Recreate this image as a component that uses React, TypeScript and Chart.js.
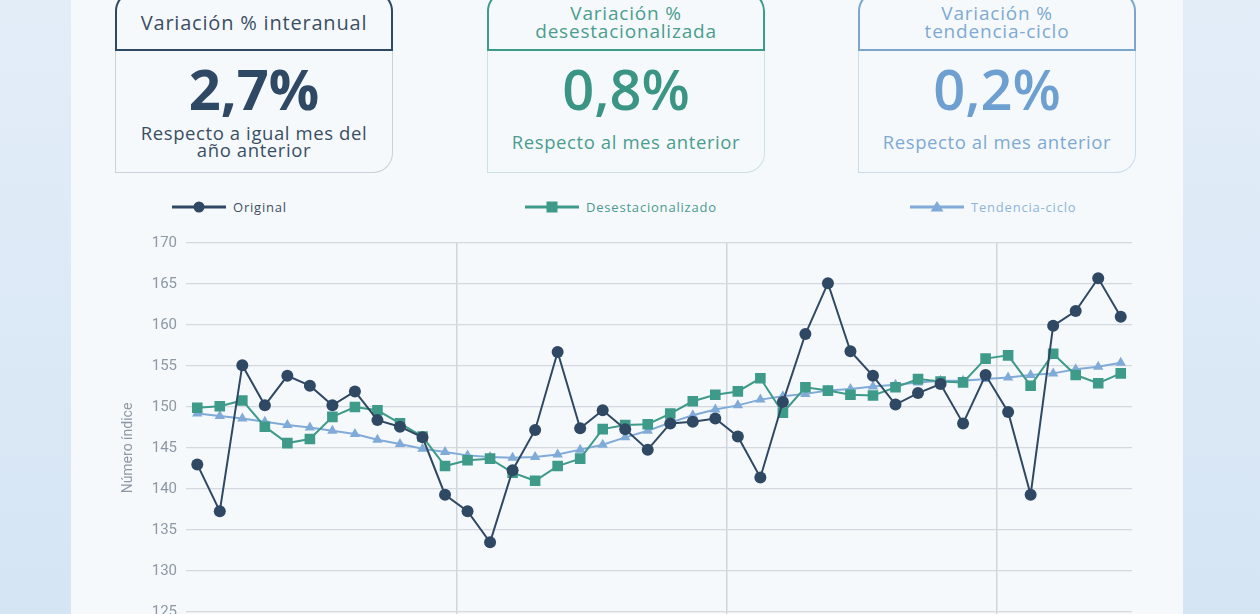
import { useEffect, useRef } from 'react'
import { Chart, registerables, type ChartOptions } from 'chart.js'

Chart.register(...registerables)

// 42 months, 12 per year; x tick labels fall below the visible area
const MONTHS = [
  'ene', 'feb', 'mar', 'abr', 'may', 'jun', 'jul', 'ago', 'sep', 'oct', 'nov', 'dic',
  'ene', 'feb', 'mar', 'abr', 'may', 'jun', 'jul', 'ago', 'sep', 'oct', 'nov', 'dic',
  'ene', 'feb', 'mar', 'abr', 'may', 'jun', 'jul', 'ago', 'sep', 'oct', 'nov', 'dic',
  'ene', 'feb', 'mar', 'abr', 'may', 'jun',
]

const ORIGINAL = [
  143.0, 137.3, 155.1, 150.2, 153.8, 152.6, 150.2, 151.9, 148.4, 147.6, 146.3, 139.3,
  137.3, 133.5, 142.3, 147.2, 156.7, 147.4, 149.6, 147.3, 144.8, 148.0, 148.2, 148.6,
  146.4, 141.4, 150.6, 158.9, 165.1, 156.8, 153.8, 150.3, 151.7, 152.8, 148.0, 153.9,
  149.4, 139.3, 159.9, 161.7, 165.7, 161.0,
]

const DESESTACIONALIZADO = [
  149.9, 150.1, 150.8, 147.6, 145.6, 146.1, 148.8, 150.0, 149.6, 148.0, 146.4, 142.8,
  143.5, 143.7, 142.0, 141.0, 142.8, 143.7, 147.3, 147.8, 147.9, 149.2, 150.7, 151.5,
  151.9, 153.5, 149.3, 152.4, 152.0, 151.5, 151.4, 152.4, 153.4, 153.1, 153.0, 155.9,
  156.3, 152.6, 156.5, 153.9, 152.9, 154.1,
]

const TENDENCIA = [
  149.2, 148.9, 148.6, 148.2, 147.8, 147.5, 147.1, 146.7, 146.0, 145.5, 144.9, 144.5,
  144.1, 143.9, 143.8, 143.9, 144.2, 144.8, 145.4, 146.3, 147.1, 148.1, 149.0, 149.7,
  150.2, 150.9, 151.3, 151.6, 152.0, 152.2, 152.5, 152.7, 153.0, 153.2, 153.2, 153.4,
  153.6, 153.9, 154.1, 154.6, 154.9, 155.4,
]

const Y_MIN = 120
const Y_MAX = 170

const NAVY = '#2f4863'
const TEAL = '#3e9a89'
const SKY = '#80aad7'
const GRID = '#d4d9df'
const TICK = '#8d98a4'

const UI_FONT = "'Open Sans', 'Noto Sans', sans-serif"

const CHART_OPTS: ChartOptions<'line'> = {
  responsive: true,
  maintainAspectRatio: false,
  animation: false,
  layout: { padding: { top: 20, right: 10, bottom: 10, left: 0 } },
  plugins: { legend: { display: false }, tooltip: { enabled: false } },
  scales: {
    x: {
      type: 'category',
      offset: true,
      border: { display: false },
      ticks: { display: false, autoSkip: false },
      grid: {
        offset: true,
        drawTicks: false,
        lineWidth: 1.5,
        color: (ctx) => (ctx.index > 0 && ctx.index % 12 === 0 ? '#d0d5db' : 'transparent'),
      },
    },
    y: {
      min: Y_MIN,
      max: Y_MAX,
      border: { display: false },
      afterFit: (scale) => {
        scale.width = 75
      },
      ticks: {
        stepSize: 5,
        padding: 9,
        color: TICK,
        font: { family: 'Roboto', size: 15 },
      },
      grid: { color: GRID, lineWidth: 1.3, drawTicks: false },
      title: {
        display: true,
        text: 'Número índice',
        color: TICK,
        font: { family: 'Roboto', size: 14 },
        padding: { top: 9, bottom: 0 },
      },
    },
  },
}

function SeriesChart() {
  const canvasRef = useRef<HTMLCanvasElement | null>(null)
  const chartRef = useRef<Chart | null>(null)

  useEffect(() => {
    if (!canvasRef.current) return
    chartRef.current?.destroy()

    chartRef.current = new Chart(canvasRef.current, {
      type: 'line',
      data: {
        labels: MONTHS,
        datasets: [
          {
            label: 'Original',
            data: ORIGINAL,
            borderColor: NAVY,
            backgroundColor: NAVY,
            borderWidth: 2,
            pointStyle: 'circle',
            pointRadius: 6,
            pointBorderWidth: 0,
            tension: 0,
          },
          {
            label: 'Desestacionalizado',
            data: DESESTACIONALIZADO,
            borderColor: TEAL,
            backgroundColor: TEAL,
            borderWidth: 2,
            pointStyle: 'rect',
            pointRadius: 7.5,
            pointBorderWidth: 0,
            tension: 0,
          },
          {
            label: 'Tendencia-ciclo',
            data: TENDENCIA,
            borderColor: SKY,
            backgroundColor: SKY,
            borderWidth: 2,
            pointStyle: 'triangle',
            pointRadius: 6,
            pointBorderWidth: 0,
            tension: 0,
          },
        ],
      },
      options: CHART_OPTS,
    })

    return () => {
      chartRef.current?.destroy()
      chartRef.current = null
    }
  }, [])

  return (
    <div style={{ position: 'absolute', left: 111, top: 223, width: 1031, height: 448 }}>
      <canvas ref={canvasRef} />
    </div>
  )
}

interface CardProps {
  left: number
  title: string[]
  value: string
  note: string[]
  edge: string
  soft: string
  text: string
  valueColor: string
  weight: number
}

function Card({ left, title, value, note, edge, soft, text, valueColor, weight }: CardProps) {
  return (
    <>
      <div
        style={{
          position: 'absolute', left, top: -9, width: 278, height: 60, boxSizing: 'border-box',
          border: `2.5px solid ${edge}`, borderRadius: '20px 20px 0 0',
          display: 'flex', flexDirection: 'column', alignItems: 'center', justifyContent: 'center',
          paddingTop: title.length > 1 ? 1 : 3, color: text, fontFamily: UI_FONT, fontSize: title.length > 1 ? 19 : 20,
          lineHeight: title.length > 1 ? '18px' : '22px', letterSpacing: 0.8,
        }}
      >
        {title.map((t) => <div key={t}>{t}</div>)}
      </div>
      <div
        style={{
          position: 'absolute', left, top: 51, width: 278, height: 122, boxSizing: 'border-box',
          border: `1.5px solid ${soft}`, borderTop: 'none', borderRadius: '0 0 20px 0',
          fontFamily: UI_FONT,
        }}
      >
        <div
          style={{
            position: 'absolute', left: 0, right: 0, top: 6, height: 62, lineHeight: '62px',
            textAlign: 'center', fontSize: 56, fontWeight: weight, color: valueColor,
          }}
        >
          {value}
        </div>
        <div
          style={{
            position: 'absolute', left: 0, right: 0, top: 70, height: 40,
            display: 'flex', flexDirection: 'column', alignItems: 'center', justifyContent: 'center',
            fontSize: 18.5, lineHeight: '17px', letterSpacing: 0.6, color: text,
          }}
        >
          {note.map((n) => <div key={n}>{n}</div>)}
        </div>
      </div>
    </>
  )
}

function LegendItem({ left, label, color, textColor, marker }: { left: number; label: string; color: string; textColor: string; marker: 'circle' | 'rect' | 'triangle' }) {
  return (
    <div style={{ position: 'absolute', left, top: 197, height: 20 }}>
      <svg width={56} height={20} style={{ position: 'absolute', left: 0, top: 0 }}>
        <line x1={0} y1={10} x2={54} y2={10} stroke={color} strokeWidth={3} />
        {marker === 'circle' && <circle cx={27} cy={10} r={5.5} fill={color} />}
        {marker === 'rect' && <rect x={21.5} y={4.5} width={11} height={11} fill={color} />}
        {marker === 'triangle' && <polygon points="27,4 33.5,14.5 20.5,14.5" fill={color} />}
      </svg>
      <div
        style={{
          position: 'absolute', left: 61, top: 0, lineHeight: '20px', whiteSpace: 'nowrap',
          fontFamily: UI_FONT, fontSize: 13, letterSpacing: 0.8, color: textColor,
        }}
      >
        {label}
      </div>
    </div>
  )
}

export default function App() {
  return (
    <div
      style={{
        position: 'fixed', left: 0, top: 0, width: 1260, height: 614, overflow: 'hidden',
        background: 'linear-gradient(180deg, #e3edf8 0%, #d5e5f4 100%)',
      }}
    >
      <div style={{ position: 'absolute', left: 71, top: 0, width: 1112, height: 614, background: '#f6f9fc' }} />
      <Card
        left={115} title={['Variación % interanual']} value="2,7%"
        note={['Respecto a igual mes del', 'año anterior']}
        edge="#2f4863" soft="#c9d1da" text="#3a4e63" valueColor="#2f4863" weight={700}
      />
      <Card
        left={487} title={['Variación %', 'desestacionalizada']} value="0,8%"
        note={['Respecto al mes anterior']}
        edge="#3e9a89" soft="#cde3de" text="#4a9d8e" valueColor="#3b9584" weight={600}
      />
      <Card
        left={858} title={['Variación %', 'tendencia-ciclo']} value="0,2%"
        note={['Respecto al mes anterior']}
        edge="#7ca6cc" soft="#cadcea" text="#7ea9d2" valueColor="#6d9fd0" weight={600}
      />
      <SeriesChart />
      <LegendItem left={172} label="Original" color={NAVY} textColor="#3d4f61" marker="circle" />
      <LegendItem left={525} label="Desestacionalizado" color={TEAL} textColor="#4a9a8d" marker="rect" />
      <LegendItem left={910} label="Tendencia-ciclo" color={SKY} textColor="#8fb4d9" marker="triangle" />
    </div>
  )
}
